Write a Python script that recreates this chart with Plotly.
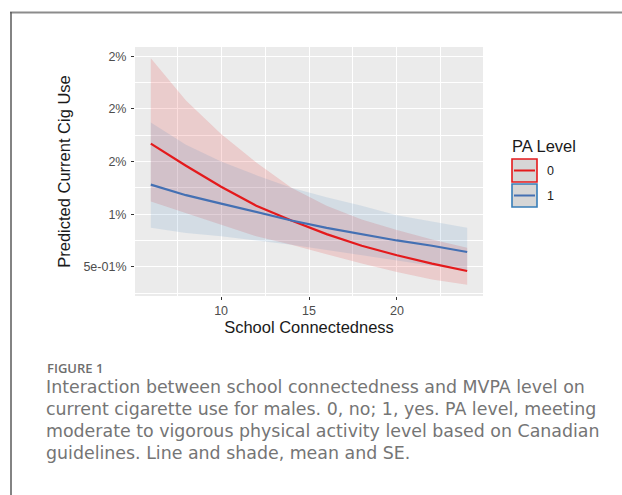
import plotly.graph_objects as go

# Predicted current cigarette use (%) by school connectedness, split by PA level
connectedness = [6, 8, 10, 12, 14, 16, 18, 20, 22, 24]

pa0_mean = [1.67, 1.46, 1.26, 1.08, 0.94, 0.81, 0.70, 0.61, 0.53, 0.46]
pa0_upper = [2.48, 2.08, 1.76, 1.49, 1.25, 1.08, 0.95, 0.85, 0.76, 0.68]
pa0_lower = [1.12, 1.01, 0.90, 0.79, 0.71, 0.62, 0.53, 0.45, 0.38, 0.33]

pa1_mean = [1.28, 1.18, 1.10, 1.02, 0.94, 0.87, 0.81, 0.75, 0.70, 0.64]
pa1_upper = [1.87, 1.66, 1.50, 1.37, 1.25, 1.16, 1.08, 0.99, 0.93, 0.87]
pa1_lower = [0.87, 0.82, 0.79, 0.75, 0.71, 0.66, 0.61, 0.56, 0.51, 0.47]

y_tick_vals = [0.5, 1.0, 1.5, 2.0, 2.5]
y_tick_text = ["5e-01%", "1%", "2%", "2%", "2%"]
x_tick_vals = [10, 15, 20]

levels = ["0", "1"]
line_colors = {"0": "#E41A1C", "1": "#4470B3"}
fill_colors = {"0": "rgba(228,26,28,0.15)", "1": "rgba(55,126,184,0.13)"}
border_colors = {"0": "#E41A1C", "1": "#377EB8"}

W, H = 622, 495
PL, PR, PT, PB = 135, 483, 47, 296  # panel box in pixels

SANS = "Liberation Sans, Arial, sans-serif"


def px(x):
    return (x - PL) / (PR - PL)


def py(y):
    return (PB - y) / (PB - PT)


def expand(lo, hi, f=0.05):
    d = (hi - lo) * f
    return [lo - d, hi + d]


series = {
    "0": (pa0_mean, pa0_upper, pa0_lower),
    "1": (pa1_mean, pa1_upper, pa1_lower),
}

fig = go.Figure()

# confidence ribbons
for lv in levels:
    m, up, lo = series[lv]
    fig.add_trace(go.Scatter(
        x=connectedness + connectedness[::-1],
        y=up + lo[::-1],
        fill="toself", fillcolor=fill_colors[lv],
        line=dict(width=0), mode="lines",
        hoverinfo="skip", showlegend=False,
    ))

# fitted means
for lv in levels:
    m, up, lo = series[lv]
    fig.add_trace(go.Scatter(
        x=connectedness, y=m, mode="lines",
        line=dict(color=line_colors[lv], width=2.2),
        name=lv, showlegend=False,
    ))

all_y = pa0_upper + pa0_lower + pa1_upper + pa1_lower
yr = expand(min(all_y), max(all_y))
xr = expand(min(connectedness), max(connectedness))

tick_font = dict(family=SANS, size=12.5, color="#4D4D4D")
title_font = dict(family=SANS, size=16.5, color="#1a1a1a")

fig.update_layout(
    width=W, height=H,
    margin=dict(l=PL, r=W - PR, t=PT, b=H - PB),
    paper_bgcolor="white", plot_bgcolor="#EBEBEB",
    showlegend=False,
    xaxis=dict(
        range=xr, tickvals=x_tick_vals, ticks="outside", ticklen=3,
        tickcolor="#333333", tickwidth=1, tickfont=tick_font,
        showgrid=True, gridcolor="white", gridwidth=1.1, zeroline=False,
        showline=False,
        minor=dict(tickvals=[7.5, 12.5, 17.5, 22.5], showgrid=True,
                   gridcolor="white", gridwidth=0.5, ticks=""),
        title=dict(text="School Connectedness", font=title_font, standoff=3),
    ),
    yaxis=dict(
        range=yr, tickvals=y_tick_vals, ticktext=y_tick_text,
        ticks="outside", ticklen=3, tickcolor="#333333", tickwidth=1,
        tickfont=tick_font, ticklabelstandoff=2,
        showgrid=True, gridcolor="white", gridwidth=1.1, zeroline=False,
        showline=False,
        minor=dict(tickvals=[0.25, 0.75, 1.25, 1.75, 2.25], showgrid=True,
                   gridcolor="white", gridwidth=0.5, ticks=""),
        title=dict(text="Predicted Current Cig Use", font=title_font, standoff=8),
    ),
)

shapes = []
annotations = []

# legend drawn by hand: title, keys and labels
annotations.append(dict(
    x=px(510), y=py(146), xref="paper", yref="paper",
    text="PA Level", showarrow=False, xanchor="left", yanchor="middle",
    font=dict(family=SANS, size=16.5, color="#1a1a1a"),
))
for i, lv in enumerate(levels):
    top = 159 + i * 25
    bot = top + 23
    shapes.append(dict(
        type="rect", xref="paper", yref="paper",
        x0=px(512), x1=px(537), y0=py(bot), y1=py(top),
        fillcolor="#D6D6D6", line=dict(color=border_colors[lv], width=1.6),
    ))
    mid = (top + bot) / 2
    shapes.append(dict(
        type="line", xref="paper", yref="paper",
        x0=px(514), x1=px(535), y0=py(mid), y1=py(mid),
        line=dict(color=line_colors[lv], width=2),
    ))
    annotations.append(dict(
        x=px(545), y=py(mid), xref="paper", yref="paper",
        text=lv, showarrow=False, xanchor="left", yanchor="middle",
        font=dict(family=SANS, size=12.5, color="#1a1a1a"),
    ))

# figure frame
shapes.append(dict(type="line", xref="paper", yref="paper",
                   x0=px(10), x1=px(622), y0=py(12.5), y1=py(12.5),
                   line=dict(color="#8C8C8C", width=2)))
shapes.append(dict(type="line", xref="paper", yref="paper",
                   x0=px(11), x1=px(11), y0=py(12), y1=py(495),
                   line=dict(color="#5A5A5A", width=1.5)))

# caption
annotations.append(dict(
    x=px(45), y=py(368), xref="paper", yref="paper",
    text="FIGURE 1", showarrow=False, xanchor="left", yanchor="middle",
    font=dict(family="Open Sans, sans-serif", size=13, color="#6E6E6E", weight=600),
))
caption_lines = [
    "Interaction between school connectedness and MVPA level on",
    "current cigarette use for males. 0, no; 1, yes. PA level, meeting",
    "moderate to vigorous physical activity level based on Canadian",
    "guidelines. Line and shade, mean and SE.",
]
for i, line in enumerate(caption_lines):
    annotations.append(dict(
        x=px(44), y=py(387 + i * 22), xref="paper", yref="paper",
        text=line, showarrow=False, xanchor="left", yanchor="middle",
        font=dict(family="DejaVu Sans, sans-serif", size=17.4, color="#757575"),
    ))

fig.update_layout(shapes=shapes, annotations=annotations)

fig.write_html("out.html")
